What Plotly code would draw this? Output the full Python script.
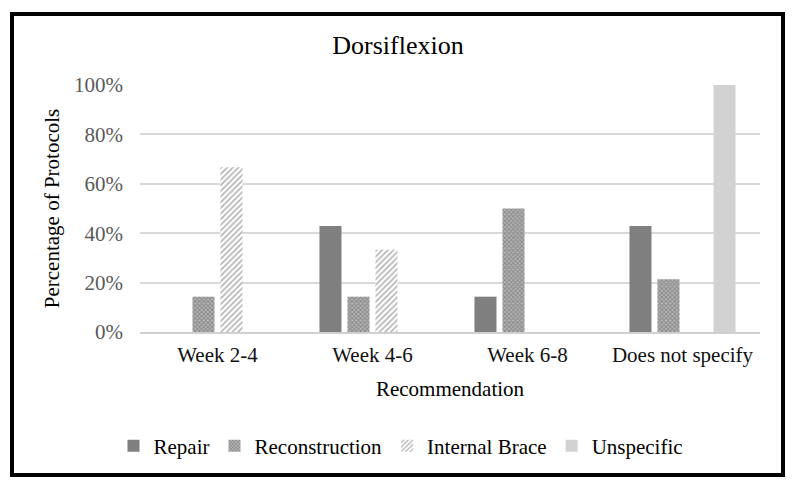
import plotly.graph_objects as go

categories = ["Week 2-4", "Week 4-6", "Week 6-8", "Does not specify"]
repair = [0, 42.9, 14.3, 42.9]
reconstruction = [14.3, 14.3, 50.0, 21.4]
internal_brace = [66.7, 33.3, 0, 0]
unspecific = [0, 0, 0, 100]
y_ticks = [0, 20, 40, 60, 80, 100]
y_tick_labels = ["0%", "20%", "40%", "60%", "80%", "100%"]

FONT = "Liberation Serif"

fig = go.Figure()
fig.add_bar(name="Repair", x=categories, y=repair,
            marker=dict(color="#7f7f7f", line=dict(width=0)))
fig.add_bar(name="Reconstruction", x=categories, y=reconstruction,
            marker=dict(color="#ffffff", line=dict(width=0),
                        pattern=dict(shape="x", fgcolor="#5c5c5c", bgcolor="#b4b4b4",
                                     size=3, solidity=0.5)))
fig.add_bar(name="Internal Brace", x=categories, y=internal_brace,
            marker=dict(color="#ffffff", line=dict(width=0),
                        pattern=dict(shape="/", fgcolor="#686868", bgcolor="#ffffff",
                                     size=4, solidity=0.4)))
fig.add_bar(name="Unspecific", x=categories, y=unspecific,
            marker=dict(color="#d2d2d2", line=dict(width=0)))

# page has an 8px body margin; work in page coordinates and shift
OFF = 8
W, H = 798 - 2 * OFF, 490 - 2 * OFF
L = 140 - OFF
R = 798 - 760 - OFF
T = 85 - OFF
B = 490 - 332 - OFF
pw, ph = W - L - R, H - T - B

def px(x):
    return (x - OFF - L) / pw

def py(y):
    return (H - B - (y - OFF)) / ph

fig.update_layout(
    width=W, height=H,
    margin=dict(l=L, r=R, t=T, b=B, autoexpand=False),
    paper_bgcolor="white", plot_bgcolor="white",
    font=dict(family=FONT, color="#000000"),
    barmode="group", bargap=0.277, bargroupgap=0.214,
    title=dict(text="Dorsiflexion", x=px(398), xanchor="center",
               xref="paper",
               y=1 - (45 - OFF) / H, yanchor="middle",
               font=dict(size=26, family=FONT, color="#000000")),
    showlegend=True,
    legend=dict(orientation="h", x=px(401), xanchor="center",
                y=py(446), yanchor="middle",
                font=dict(size=21, family=FONT, color="#000000"),
                itemwidth=30, tracegroupgap=0),
    xaxis=dict(title=dict(text="Recommendation", standoff=15,
                          font=dict(size=21, family=FONT, color="#000000")),
               tickfont=dict(size=21, family=FONT, color="#111111"),
               showline=True, linecolor="#d0d0d0", linewidth=1.5,
               ticks="", showgrid=False, ticklabelstandoff=3),
    yaxis=dict(title=dict(text="Percentage of Protocols", standoff=8,
                          font=dict(size=21, family=FONT, color="#000000")),
               range=[0, 100], tickvals=y_ticks, ticktext=y_tick_labels,
               tickfont=dict(size=21, family=FONT, color="#595959"),
               showgrid=True, gridcolor="#d9d9d9", gridwidth=1.5,
               zeroline=False, ticks="", ticklen=0, ticklabelstandoff=16),
)

fig.add_shape(type="rect", xref="paper", yref="paper",
              x0=px(12), x1=px(783), y0=py(475), y1=py(14),
              line=dict(color="#000000", width=4), fillcolor="rgba(0,0,0,0)",
              layer="above")

fig.write_html("out.html")
